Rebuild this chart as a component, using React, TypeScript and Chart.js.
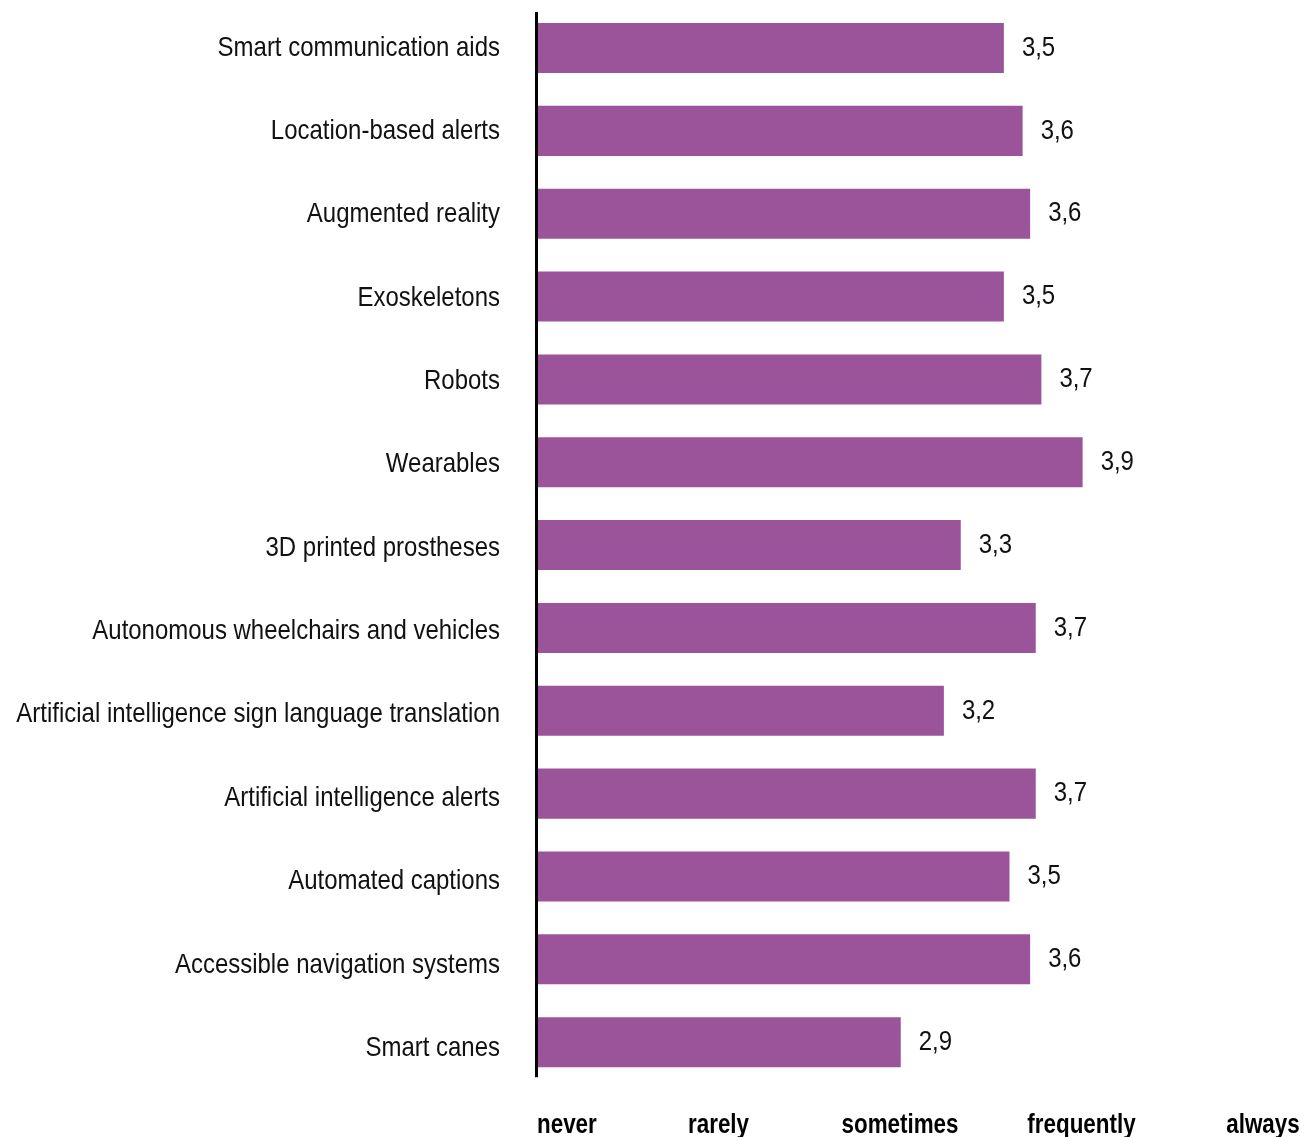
import React, { useEffect, useRef } from "react";
import { Chart, registerables } from "chart.js";

Chart.register(...registerables);

const categories = [
  "Smart communication aids",
  "Location-based alerts",
  "Augmented reality",
  "Exoskeletons",
  "Robots",
  "Wearables",
  "3D printed prostheses",
  "Autonomous wheelchairs and vehicles",
  "Artificial intelligence sign language translation",
  "Artificial intelligence alerts",
  "Automated captions",
  "Accessible navigation systems",
  "Smart canes",
];

const values = [3.49, 3.59, 3.63, 3.49, 3.69, 3.91, 3.26, 3.66, 3.17, 3.66, 3.52, 3.63, 2.94];

const scaleLabels = ["never", "rarely", "sometimes", "frequently", "always"];

const scaleMin = 1;
const scaleMax = 5;

const FONT = '"Liberation Sans", Arial, sans-serif';
const BAR_COLOR = "#9b5499";
const TEXT_COLOR = "#111111";
const CONDENSE = 0.856;
const CONDENSE_BOLD = 0.8;
const LABEL_SPREAD = 1.006;

const formatValue = (v: number) => v.toFixed(1).replace(".", ",");

function drawCondensed(ctx: any, text: string, x: number, y: number, align: string, sx: number) {
  ctx.save();
  ctx.translate(x, y);
  ctx.scale(sx, 1);
  ctx.textAlign = align;
  ctx.fillText(text, 0, 0);
  ctx.restore();
}

const overlayPlugin = {
  id: "overlay",
  afterDatasetsDraw(chart: any) {
    const ctx = chart.ctx as any;
    const meta = chart.getDatasetMeta(0);
    const area = chart.chartArea;
    const yScale = chart.scales.y;
    ctx.save();

    // category labels
    ctx.fillStyle = TEXT_COLOR;
    ctx.font = `28px ${FONT}`;
    ctx.textBaseline = "middle";
    const y0 = yScale.getPixelForTick(0);
    const band = categories.length > 1 ? yScale.getPixelForTick(1) - y0 : 0;
    categories.forEach((c, i) => {
      drawCondensed(ctx, c, area.left - 37, y0 + i * band * LABEL_SPREAD, "right", CONDENSE);
    });

    // value labels
    meta.data.forEach((bar: any, i: number) => {
      drawCondensed(ctx, formatValue(values[i]), bar.x + 18, bar.y, "left", CONDENSE);
    });

    // vertical axis line
    const first = meta.data[0];
    const last = meta.data[meta.data.length - 1];
    const top = first.y - first.height / 2 - 11;
    const bottom = last.y + last.height / 2 + 10;
    ctx.fillStyle = "#000000";
    ctx.fillRect(area.left - 2, top, 3, bottom - top);

    // scale labels along the bottom
    ctx.font = `bold 28px ${FONT}`;
    ctx.textBaseline = "alphabetic";
    ctx.fillStyle = "#000000";
    const step = 181.5;
    const rightLimit = chart.width - 3;
    scaleLabels.forEach((s, i) => {
      const w = ctx.measureText(s).width * CONDENSE_BOLD;
      const cx = area.left + i * step;
      let left = cx - w / 2;
      if (left < area.left) left = area.left;
      if (left + w > rightLimit) left = rightLimit - w;
      drawCondensed(ctx, s, left, 1133, "left", CONDENSE_BOLD);
    });
    ctx.restore();
  },
};

export default function App() {
  const canvasRef = useRef<HTMLCanvasElement | null>(null);

  useEffect(() => {
    if (!canvasRef.current) return;
    const chart = new Chart(canvasRef.current, {
      type: "bar",
      data: {
        labels: categories,
        datasets: [
          {
            data: values,
            backgroundColor: BAR_COLOR,
            barPercentage: 0.604,
            categoryPercentage: 1,
          },
        ],
      },
      options: {
        indexAxis: "y",
        animation: false,
        responsive: false,
        devicePixelRatio: 1,
        layout: { padding: { left: 0, right: 17, top: 6.6, bottom: 53.4 } },
        plugins: { legend: { display: false }, tooltip: { enabled: false } },
        scales: {
          x: { min: scaleMin, max: scaleMax, display: false },
          y: {
            grid: { display: false, drawTicks: false },
            border: { display: false },
            ticks: { display: false },
            afterFit: (scale: any) => {
              scale.width = 537;
            },
          },
        },
      },
      plugins: [overlayPlugin],
    });
    return () => chart.destroy();
  }, []);

  return (
    <div style={{ position: "absolute", left: 0, top: 0, width: 1304, height: 1137, background: "#fff" }}>
      <canvas ref={canvasRef} width={1304} height={1137} style={{ display: "block" }} />
    </div>
  );
}
